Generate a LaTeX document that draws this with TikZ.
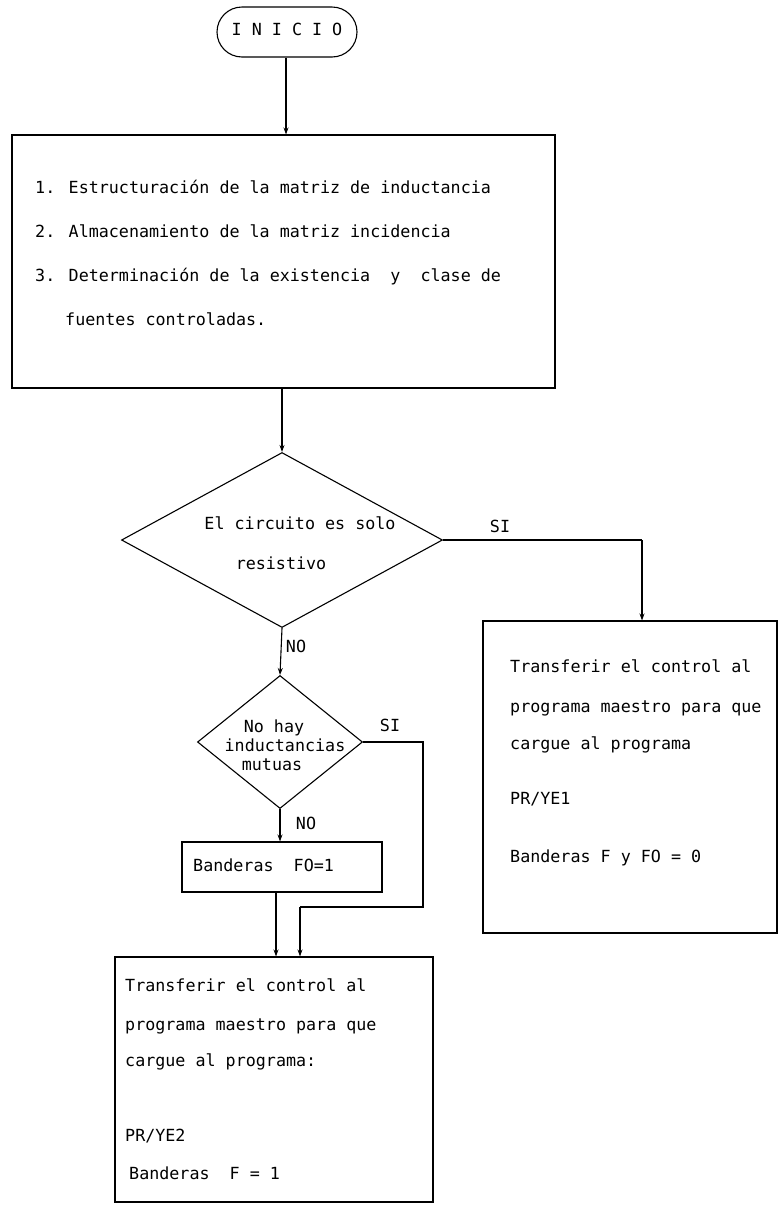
\documentclass[tikz,border=0pt]{standalone}
\usepackage{fontspec}
\newfontfamily\tw{DejaVu Sans Mono}
\usetikzlibrary{shapes.geometric,arrows.meta}
\begin{document}
\begin{tikzpicture}[x=1pt,y=-1pt,
  every node/.style={font=\tw\fontsize{16.7}{20}\selectfont},
  frame/.style={draw, line width=1.1pt, inner sep=0pt},
  decision/.style={frame, diamond},
  txt/.style={anchor=west, inner sep=0pt, text height=12pt, text depth=3.5pt},
  ctxt/.style={anchor=center, inner sep=0pt, text height=12pt, text depth=3.5pt},
  wire/.style={line width=1.1pt},
  flow/.style={wire, -{Stealth[length=7pt,width=5pt]}}]
\useasboundingbox (0,0) rectangle (779,1216);

% start terminal
\node[frame, rounded corners=25pt, minimum width=140pt, minimum height=50pt]
  (ini) at (287,32) {};
\node[ctxt] (initxt) at (287,31) {I N I C I O};

% first process block
\node[frame, minimum width=543pt, minimum height=253pt] (box1) at (283.5,261.5) {};
\node[txt] (l1) at (35,189) {1. Estructuración de la matriz de inductancia};
\node[txt] (l2) at (35,233) {2. Almacenamiento de la matriz incidencia};
\node[txt] (l3) at (35,277) {3. Determinación de la existencia~~y~~clase de};
\node[txt] (l4) at (65,321) {fuentes controladas.};

% first decision
\node[decision, minimum width=321pt, minimum height=175pt] (d1) at (282,540) {};
\node[ctxt] (d1a) at (300,525) {El circuito es solo};
\node[ctxt] (d1b) at (281,565) {resistivo};

% right-hand process block
\node[frame, minimum width=294pt, minimum height=312pt] (rbox) at (630,777) {};
\node[txt] (r1) at (510,668) {Transferir el control al};
\node[txt] (r2) at (510,708) {programa maestro para que};
\node[txt] (r3) at (510,745) {cargue al programa};
\node[txt] (r4) at (510,800) {PR/YE1};
\node[txt] (r5) at (510,858) {Banderas F y FO = 0};

% second decision
\node[decision, minimum width=165pt, minimum height=133pt] (d2) at (280,742) {};
\node[ctxt] (d2a) at (274,728) {No hay};
\node[ctxt] (d2b) at (285,747) {inductancias};
\node[ctxt] (d2c) at (272,766) {mutuas};

% flag block
\node[frame, minimum width=200pt, minimum height=50pt] (band) at (282,867) {};
\node[txt] (bandtxt) at (193,867) {Banderas~~FO=1};

% lower process block
\node[frame, minimum width=318pt, minimum height=245pt] (bbox) at (274,1079.5) {};
\node[txt] (b1) at (125,987) {Transferir el control al};
\node[txt] (b2) at (125,1026) {programa maestro para que};
\node[txt] (b3) at (125,1062) {cargue al programa:};
\node[txt] (b4) at (125,1137) {PR/YE2};
\node[txt] (b5) at (129,1175) {Banderas~~F = 1};

% branch labels
\node[ctxt] (si1) at (500,528) {SI};
\node[ctxt] (no1) at (296,648) {NO};
\node[ctxt] (si2) at (390,727) {SI};
\node[ctxt] (no2) at (306,825) {NO};

% bend points
\coordinate (k1) at (642,540);
\coordinate (k2) at (423,742);
\coordinate (k3) at (423,907);
\coordinate (k4) at (300,907);
\coordinate (k5) at (276,892);

% connectors
\draw[flow] (ini.south -| 286,0) -- (286,0 |- box1.north);
\draw[flow] (d1.north |- box1.south) -- (d1.north);
\draw[wire] (d1.east) -- (k1);
\draw[flow] (k1) -- (k1 |- rbox.north);
\draw[flow] (d1.south) -- (d2.north);
\draw[wire] (d2.east) -- (k2) -- (k3) -- (k4);
\draw[flow] (k4) -- (k4 |- bbox.north);
\draw[flow] (d2.south) -- (d2.south |- band.north);
\draw[flow] (k5) -- (k5 |- bbox.north);
\end{tikzpicture}
\end{document}
